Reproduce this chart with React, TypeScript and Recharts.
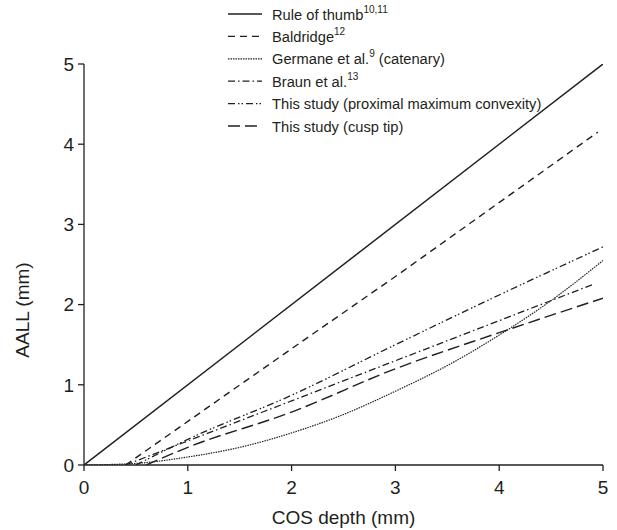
import { LineChart, Line, XAxis, YAxis } from 'recharts';

// x = COS depth (mm), y = AALL (mm)
const ruleX = [0, 5];
const ruleY = [0, 5];

const baldridgeX = [0.4, 2, 3, 4.95];
const baldridgeY = [0, 1.45, 2.35, 4.15];

const germaneX = [0, 0.5, 1, 1.5, 2, 2.5, 3, 3.5, 4, 4.5, 5];
const germaneY = [0, 0.02, 0.1, 0.22, 0.4, 0.63, 0.92, 1.24, 1.62, 2.05, 2.55];

const braunX = [0.4, 1, 2, 3, 4, 4.9];
const braunY = [0, 0.3, 0.8, 1.3, 1.8, 2.25];

const proxX = [0.5, 1, 2, 3, 4, 5];
const proxY = [0, 0.32, 0.87, 1.5, 2.12, 2.72];

const cuspX = [0.6, 1, 2, 3, 4, 5];
const cuspY = [0, 0.22, 0.66, 1.2, 1.65, 2.08];

const ticks = [0, 1, 2, 3, 4, 5];

const INK = '#231f20';
const FONT = '"Liberation Sans", Arial, sans-serif';

const toPoints = (xs: number[], ys: number[]) => xs.map((x, i) => ({ x, y: ys[i] }));

type Series = {
  key: string;
  data: { x: number; y: number }[];
  label: string;
  sup?: string;
  after?: string;
  dash?: string;
  width: number;
  type: 'linear' | 'monotone';
};

const SERIES: Series[] = [
  { key: 'rule', data: toPoints(ruleX, ruleY), label: 'Rule of thumb', sup: '10,11', width: 1.5, type: 'linear' },
  { key: 'baldridge', data: toPoints(baldridgeX, baldridgeY), label: 'Baldridge', sup: '12', dash: '7 5', width: 1.4, type: 'linear' },
  { key: 'germane', data: toPoints(germaneX, germaneY), label: 'Germane et al.', sup: '9', after: ' (catenary)', dash: '1.5 1', width: 1.2, type: 'monotone' },
  { key: 'braun', data: toPoints(braunX, braunY), label: 'Braun et al.', sup: '13', dash: '7 3 1.5 3', width: 1.3, type: 'monotone' },
  { key: 'prox', data: toPoints(proxX, proxY), label: 'This study (proximal maximum convexity)', dash: '7 3 1.5 2 1.5 3', width: 1.3, type: 'monotone' },
  { key: 'cusp', data: toPoints(cuspX, cuspY), label: 'This study (cusp tip)', dash: '12 5', width: 1.4, type: 'monotone' },
];

function LegendOverlay() {
  const rowY0 = 14;
  const rowGap = 22.4;
  return (
    <svg width={617} height={530} style={{ position: 'absolute', left: 0, top: 0, pointerEvents: 'none' }}>
      {SERIES.map((s, i) => {
        const y = rowY0 + i * rowGap;
        return (
          <g key={s.key}>
            <line x1={228} x2={262} y1={y} y2={y} stroke={INK} strokeWidth={s.width} strokeDasharray={s.dash} />
            <text x={272} y={y + 5.5} fontSize={14.7} fontFamily={FONT} fill={INK}>
              <tspan>{s.label}</tspan>
              {s.sup && (
                <tspan dy={-7} fontSize={10}>
                  {s.sup}
                </tspan>
              )}
              {s.after && <tspan dy={7}>{s.after}</tspan>}
            </text>
          </g>
        );
      })}
      <text
        x={22}
        y={310}
        transform="rotate(-90, 22, 310)"
        textAnchor="middle"
        dominantBaseline="central"
        fontSize={19}
        fontFamily={FONT}
        fill={INK}
      >
        AALL (mm)
      </text>
    </svg>
  );
}

export default function App() {
  return (
    <div style={{ position: 'absolute', left: 0, top: 0, width: 617, height: 530, background: '#fff' }}>
      <LineChart width={617} height={530} margin={{ top: 64, right: 14, bottom: 0, left: 0 }}>
        <XAxis
          type="number"
          dataKey="x"
          domain={[0, 5]}
          ticks={ticks}
          allowDataOverflow
          height={65}
          tickSize={6}
          tickMargin={10}
          tick={{ fontSize: 19, fill: INK, fontFamily: FONT }}
          axisLine={{ stroke: INK, strokeWidth: 1.3 }}
          tickLine={{ stroke: INK, strokeWidth: 1.3 }}
          label={{ value: 'COS depth (mm)', position: 'insideBottom', offset: 6, fontSize: 19, fill: INK, fontFamily: FONT }}
        />
        <YAxis
          type="number"
          dataKey="y"
          domain={[0, 5]}
          ticks={ticks}
          allowDataOverflow
          width={84}
          tickSize={6}
          tickMargin={4}
          tick={{ fontSize: 19, fill: INK, fontFamily: FONT }}
          axisLine={{ stroke: INK, strokeWidth: 1.3 }}
          tickLine={{ stroke: INK, strokeWidth: 1.3 }}
        />
        {SERIES.map((s) => (
          <Line
            key={s.key}
            data={s.data}
            dataKey="y"
            type={s.type}
            stroke={INK}
            strokeWidth={s.width}
            strokeDasharray={s.dash}
            dot={false}
            activeDot={false}
            isAnimationActive={false}
          />
        ))}
      </LineChart>
      <LegendOverlay />
    </div>
  );
}
